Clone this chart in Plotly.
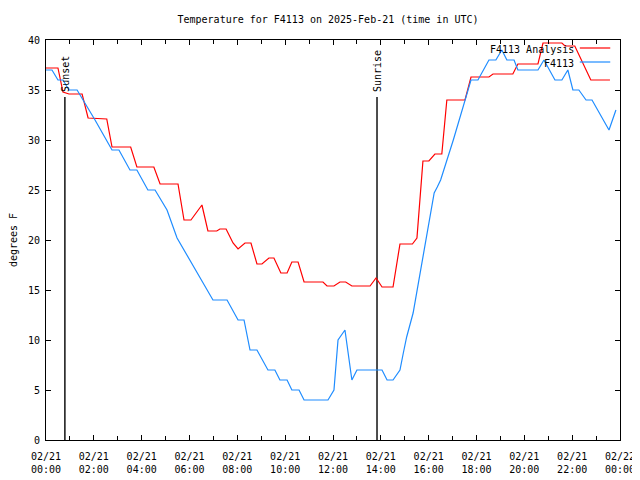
import plotly.graph_objects as go

# ---- data ----
analysis_hours = [0.0, 0.50, 0.71, 0.96, 1.51, 1.76, 2.54, 2.76, 3.54, 3.80, 4.51, 4.77,
                  5.52, 5.77, 6.06, 6.52, 6.77, 7.14, 7.27, 7.53, 7.82, 8.03, 8.32, 8.57,
                  8.82, 9.03, 9.32, 9.53, 9.82, 10.08, 10.28, 10.54, 10.79, 11.58, 11.75,
                  12.04, 12.29, 12.53, 12.79, 13.55, 13.80, 14.05, 14.51, 14.80, 15.32,
                  15.51, 15.76, 16.01, 16.26, 16.55, 16.76, 17.52, 17.77, 18.52, 18.69,
                  19.52, 19.73, 20.57, 20.78, 21.57, 21.70, 22.11, 22.78, 23.58]
analysis_temps = [37.2, 37.2, 34.8, 34.6, 34.6, 32.2, 32.1, 29.3, 29.3, 27.3, 27.3, 25.6,
                  25.6, 22.0, 22.0, 23.5, 20.9, 20.9, 21.1, 21.1, 19.7, 19.1, 19.7, 19.7,
                  17.6, 17.6, 18.2, 18.2, 16.7, 16.7, 17.8, 17.8, 15.8, 15.8, 15.4,
                  15.4, 15.8, 15.8, 15.4, 15.4, 16.2, 15.3, 15.3, 19.6, 19.6,
                  20.2, 27.9, 27.9, 28.6, 28.6, 34.0, 34.0, 36.3, 36.3, 36.6,
                  36.6, 37.6, 37.6, 39.7, 39.7, 39.4, 39.4, 36.0, 36.0]

obs_hours = [0.0, 0.25, 0.50, 0.71, 0.96, 1.30, 2.05, 2.76, 3.05, 3.51, 3.80, 4.26, 4.56,
             5.06, 5.48, 6.52, 6.98, 7.57, 8.03, 8.28, 8.53, 8.82, 9.28, 9.57, 9.78,
             10.08, 10.28, 10.58, 10.79, 11.79, 12.04, 12.21, 12.50, 12.79, 13.00,
             14.05, 14.26, 14.51, 14.80, 14.94, 15.08, 15.35, 16.23, 16.36, 16.50,
             17.03, 17.77, 18.06, 18.52, 18.81, 19.06, 19.27, 19.57, 19.73, 20.57,
             20.82, 21.28, 21.57, 21.82, 22.03, 22.28, 22.58, 22.83, 23.54, 23.83]
obs_temps = [37, 37, 36, 36, 35, 35, 32, 29, 29, 27, 27, 25, 25,
             23, 20.2, 16, 14, 14, 12, 12, 9, 9, 7, 7, 6,
             6, 5, 5, 4, 4, 5, 10, 11, 6, 7,
             7, 6, 6, 7, 8.7, 10.3, 12.7, 24.7, 25.3, 26,
             30, 36, 36, 38, 38, 39, 38, 38, 37, 37,
             38, 36, 36, 37, 35, 35, 34, 34, 31, 33]

sun_events = ["Sunset", "Sunrise"]
sun_hours = [0.79, 13.84]

tick_hours = list(range(0, 25, 2))
tick_labels = ["02/21<br>%02d:00" % h for h in range(0, 24, 2)] + ["02/22<br>00:00"]

FONT = "DejaVu Sans Mono"
FS = 10
RED = "#ff0000"
BLUE = "#1e8cff"

fig = go.Figure()

for name, h in zip(sun_events, sun_hours):
    fig.add_trace(go.Scatter(x=[h, h], y=[0, 34.3], mode="lines",
                             line=dict(color="black", width=1.4), showlegend=False,
                             hoverinfo="skip"))
    fig.add_annotation(x=h, y=34.6, xref="x", yref="y", text=name, textangle=-90,
                       showarrow=False, xanchor="center", yanchor="bottom",
                       font=dict(family=FONT, size=FS, color="black"))

fig.add_trace(go.Scatter(x=analysis_hours, y=analysis_temps, mode="lines",
                         name="F4113 Analysis", line=dict(color=RED, width=1.2),
                         showlegend=False))
fig.add_trace(go.Scatter(x=obs_hours, y=obs_temps, mode="lines",
                         name="F4113", line=dict(color=BLUE, width=1.2),
                         showlegend=False))

# gnuplot-style key: text right-aligned, then line sample
key = [("F4113 Analysis", RED, 0.977), ("F4113", BLUE, 0.942)]
for text, col, yp in key:
    fig.add_annotation(x=0.923, y=yp, xref="paper", yref="paper", text=text,
                       showarrow=False, xanchor="right", yanchor="middle",
                       font=dict(family=FONT, size=FS, color="black"))
    fig.add_shape(type="line", xref="paper", yref="paper", x0=0.930, x1=0.983,
                  y0=yp + 0.003, y1=yp + 0.003, line=dict(color=col, width=1.2))

# the page body has an 8px margin, so margins are compensated
fig.update_layout(
    width=640, height=480,
    margin=dict(l=38, r=28, t=32, b=48),
    paper_bgcolor="white", plot_bgcolor="white",
    font=dict(family=FONT, size=FS, color="black"),
    title=dict(text="Temperature for F4113 on 2025-Feb-21 (time in UTC)",
               x=0.5, xanchor="center", y=1 - 11 / 480, yanchor="middle",
               font=dict(family=FONT, size=FS)),
    showlegend=False,
)
fig.update_xaxes(range=[0, 24], tickmode="array", tickvals=tick_hours, ticktext=tick_labels,
                 ticks="inside", ticklen=5, tickcolor="black", showgrid=False,
                 zeroline=False, showline=True, linecolor="black", linewidth=1,
                 mirror="allticks", ticklabelstandoff=7,
                 minor=dict(dtick=1, tick0=0, ticks="inside", ticklen=4, tickcolor="black",
                            showgrid=False),
                 tickfont=dict(family=FONT, size=FS), automargin=False)
fig.update_yaxes(range=[0, 40], dtick=5, tick0=0, ticks="inside", ticklen=5,
                 tickcolor="black", showgrid=False, zeroline=False, showline=True,
                 linecolor="black", linewidth=1, mirror="allticks", ticklabelstandoff=3,
                 title=dict(text="degrees F", standoff=15, font=dict(family=FONT, size=FS)),
                 tickfont=dict(family=FONT, size=FS), automargin=False)

fig.write_html("out.html")
